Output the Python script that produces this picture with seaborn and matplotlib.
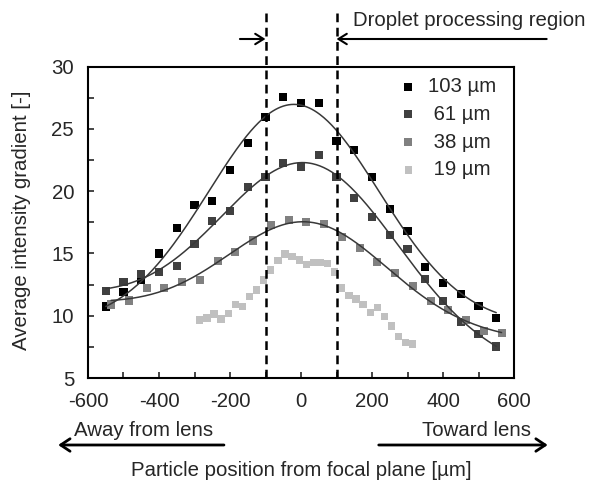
import numpy as np
import pandas as pd
import matplotlib
matplotlib.use("Agg")
import matplotlib.pyplot as plt
import seaborn as sns

# Data
x_103 = np.arange(-550, 551, 50)
y_103 = [10.74, 11.9, 12.88, 15.0, 17.02, 18.92, 19.25, 21.7, 23.85, 25.93, 27.6, 27.06,
         27.1, 24.0, 23.3, 21.17, 18.58, 16.78, 13.9, 12.65, 11.76, 10.8, 9.85]

x_61 = np.arange(-550, 551, 50)
y_61 = [12.02, 12.7, 13.36, 13.5, 14.03, 15.77, 17.58, 18.44, 20.31, 21.12, 22.24, 21.92,
        22.9, 21.12, 19.46, 17.9, 16.52, 15.37, 12.96, 11.16, 9.5, 8.5, 7.53]

x_38 = np.arange(-535, 566, 50)
y_38 = [10.9, 11.22, 12.24, 12.24, 12.69, 12.88, 14.37, 15.1, 16.04, 17.3, 17.72, 17.5,
        17.38, 16.3, 15.45, 14.3, 13.44, 12.37, 11.16, 10.45, 9.67, 8.8, 8.6]

x_19 = np.arange(-285, 316, 20)
y_19 = [9.67, 9.83, 10.15, 9.75, 10.2, 10.9, 10.74, 11.54, 12.08, 12.88, 13.68, 14.43,
        14.97, 14.75, 14.49, 14.1, 14.3, 14.3, 14.17, 13.5, 12.24, 11.62, 11.35, 10.9,
        10.28, 10.68, 9.94, 9.19, 8.33, 7.87, 7.74]

labels = ["103 \u00b5m", " 61 \u00b5m", " 38 \u00b5m", " 19 \u00b5m"]
colors = ["#000000", "#404040", "#808080", "#c0c0c0"]


def gauss_fit(x, y, sloped):
    # gaussian peak on a constant (or sloped) baseline, least squares over centre/width grid
    x = np.asarray(x, float)
    y = np.asarray(y, float)
    best = None
    for m in np.linspace(-150, 150, 61):
        for s in np.linspace(100, 500, 161):
            cols = [np.ones_like(x), np.exp(-(x - m) ** 2 / (2 * s ** 2))]
            if sloped:
                cols.append(x)
            A = np.column_stack(cols)
            coef = np.linalg.lstsq(A, y, rcond=None)[0]
            err = np.sum((A @ coef - y) ** 2)
            if best is None or err < best[0]:
                best = (err, m, s, coef)
    _, m, s, c = best
    xf = np.linspace(x.min(), x.max(), 300)
    yf = c[0] + c[1] * np.exp(-(xf - m) ** 2 / (2 * s ** 2))
    if sloped:
        yf = yf + c[2] * xf
    return xf, yf


sns.set_style("ticks")
plt.rcParams["font.family"] = ["Liberation Sans", "DejaVu Sans"]
plt.rcParams["font.size"] = 14.7
plt.rcParams["axes.unicode_minus"] = False
FS = 14.7

fig = plt.figure(figsize=(5.96, 4.84), dpi=100)
ax = fig.add_axes([88 / 596, 1 - 378 / 484, (514 - 88) / 596, (378 - 66.7) / 484])

series = [(x_103, y_103), (x_61, y_61), (x_38, y_38), (x_19, y_19)]
for i, (xs, ys) in enumerate(series):
    df = pd.DataFrame({"x": xs, "y": ys})
    sns.scatterplot(data=df, x="x", y="y", ax=ax, marker="s", s=34 if i < 3 else 28,
                    color=colors[i], edgecolor="none", linewidth=0, label=labels[i], zorder=3)

# fitted curves for the three larger droplets
for (xs, ys), sloped in zip(series[:3], (False, True, True)):
    xf, yf = gauss_fit(xs, ys, sloped)
    sns.lineplot(x=xf, y=yf, ax=ax, color="#383838", lw=1.1, zorder=4, legend=False)

ax.set_xlim(-600, 600)
ax.set_ylim(5, 30)
ax.set_xticks(np.arange(-600, 601, 200))
ax.set_xticks(np.arange(-600, 601, 100), minor=True)
ax.set_yticks(np.arange(5, 31, 5))
ax.set_yticks(np.arange(5, 30.1, 2.5), minor=True)
ax.tick_params(which="both", direction="in", length=4, width=1.2)
ax.tick_params(axis="x", pad=10, labelsize=FS)
ax.tick_params(axis="y", pad=10, labelsize=FS)
ax.set_xlabel("")
ax.set_ylabel("")
for sp in ax.spines.values():
    sp.set_linewidth(1.5)
    sp.set_color("black")

# processing-region boundaries
for xv in (-100, 100):
    ax.axvline(xv, ymin=0, ymax=(378 - 10) / (378 - 66.7), color="black", lw=1.8,
               linestyle=(0, (3.5, 2.2)), clip_on=False, zorder=5)

leg = ax.legend(loc="upper left", bbox_to_anchor=((398 - 88) / 426, 1 - (77 - 66.7) / 311.3),
                frameon=False, handlelength=1.0, handletextpad=0.45, labelspacing=0.43,
                borderpad=0, borderaxespad=0, fontsize=FS)

# arrows and annotations
blend = ("data", "figure fraction")
arrow_top = dict(arrowstyle="->,head_length=0.4,head_width=0.25", lw=1.5, color="black",
                 shrinkA=0, shrinkB=0, mutation_scale=15)
ax.annotate("", xy=(-100, 1 - 39 / 484), xytext=(-172, 1 - 39 / 484), xycoords=blend,
            textcoords=blend, arrowprops=arrow_top, annotation_clip=False)
ax.annotate("", xy=(100, 1 - 39 / 484), xytext=(692, 1 - 39 / 484), xycoords=blend,
            textcoords=blend, arrowprops=arrow_top, annotation_clip=False)
fig.text(353 / 596, 1 - 21 / 484, "Droplet processing region", ha="left", va="center", fontsize=FS)

arrow_bot = dict(arrowstyle="->,head_length=0.45,head_width=0.3", lw=2.0, color="black",
                 shrinkA=0, shrinkB=0, mutation_scale=15)
ax.annotate("", xy=(-684, 1 - 445 / 484), xytext=(-217, 1 - 445 / 484), xycoords=blend,
            textcoords=blend, arrowprops=arrow_bot, annotation_clip=False)
ax.annotate("", xy=(695, 1 - 445 / 484), xytext=(219, 1 - 445 / 484), xycoords=blend,
            textcoords=blend, arrowprops=arrow_bot, annotation_clip=False)
fig.text(74 / 596, 1 - 430 / 484, "Away from lens", ha="left", va="center", fontsize=FS)
fig.text(531 / 596, 1 - 430 / 484, "Toward lens", ha="right", va="center", fontsize=FS)

fig.text(301 / 596, 1 - 470 / 484, "Particle position from focal plane [\u00b5m]",
         ha="center", va="center", fontsize=FS)
fig.text(22 / 596, 1 - 220 / 484, "Average intensity gradient [-]", rotation=90,
         ha="center", va="center", fontsize=FS)

fig.savefig("out.png", dpi=100)
